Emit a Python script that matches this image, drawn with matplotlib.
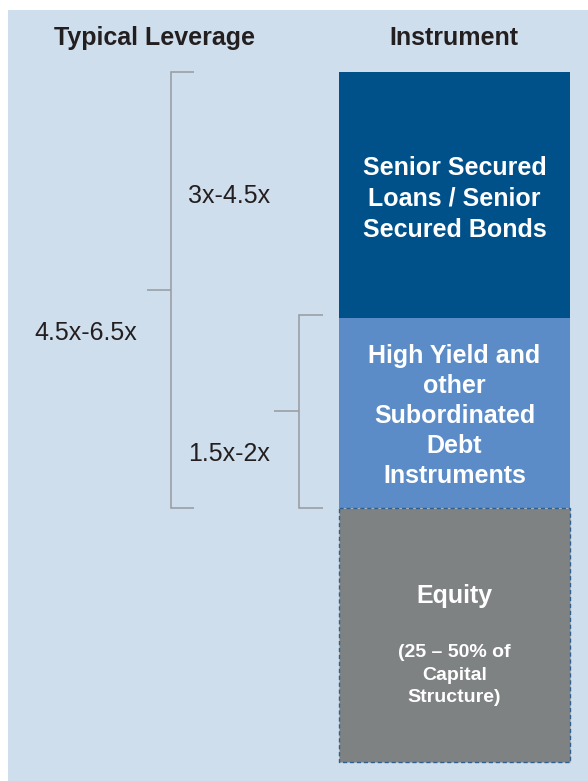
import matplotlib
matplotlib.use("Agg")
import matplotlib.pyplot as plt
from matplotlib.patches import Rectangle

plt.rcParams["font.family"] = ["Liberation Sans", "DejaVu Sans"]

# Content
headers = ["Typical Leverage", "Instrument"]
instruments = [
    "Senior Secured\nLoans / Senior\nSecured Bonds",
    "High Yield and\nother\nSubordinated\nDebt\nInstruments",
    "Equity",
]
equity_note = "(25 \u2013 50% of\nCapital\nStructure)"
leverage_labels = ["3x-4.5x", "1.5x-2x", "4.5x-6.5x"]

# Layout (pixel space, y downward)
W, H = 588, 781
BG = "#cfdeec"
TEXT = "#231f20"
LINE = "#9a9fa5"
box_colors = ["#00508a", "#5b8cc8", "#7f8283"]
box_x0, box_x1 = 339, 570
box_edges = [72, 318, 508, 762]
FS = 18

fig = plt.figure(figsize=(W / 100, H / 100), dpi=100)
fig.patch.set_facecolor("white")
ax = fig.add_axes([0, 0, 1, 1])
ax.set_xlim(0, W)
ax.set_ylim(H, 0)
ax.axis("off")

# panel background
ax.add_patch(Rectangle((8, 10), W - 8, H - 10, facecolor=BG, edgecolor="none", zorder=0))

# headers
ax.text(155, 38, headers[0], ha="center", va="center", fontsize=FS,
        fontweight="bold", color=TEXT)
ax.text(454, 38, headers[1], ha="center", va="center", fontsize=FS,
        fontweight="bold", color=TEXT)

# instrument boxes
text_centers = [199, 416]
spacings = [1.36, 1.32]
for i, (label, color) in enumerate(zip(instruments, box_colors)):
    y0, y1 = box_edges[i], box_edges[i + 1]
    if i < 2:
        ax.add_patch(Rectangle((box_x0, y0), box_x1 - box_x0, y1 - y0,
                               facecolor=color, edgecolor="none", zorder=1))
        ax.text((box_x0 + box_x1) / 2, text_centers[i], label,
                ha="center", va="center", fontsize=FS, fontweight="bold",
                color="white", linespacing=spacings[i], zorder=3)
    else:
        ax.add_patch(Rectangle((box_x0, y0), box_x1 - box_x0, y1 - y0,
                               facecolor=color, edgecolor="#2f5f8e", linewidth=1.0,
                               linestyle=(0, (3, 2)), zorder=2))
        ax.text((box_x0 + box_x1) / 2, 596, label, ha="center", va="center",
                fontsize=FS, fontweight="bold", color="white", zorder=3)
        ax.text((box_x0 + box_x1) / 2, 675, equity_note, ha="center", va="center",
                fontsize=14, fontweight="bold", color="white", linespacing=1.45,
                zorder=3)

# brackets
lw = 1.2
# large bracket (senior + high yield)
ax.plot([194, 171, 171, 194], [72, 72, 508, 508], color=LINE, lw=lw,
        solid_capstyle="butt", solid_joinstyle="miter")
ax.plot([147, 171], [290, 290], color=LINE, lw=lw, solid_capstyle="butt")
# small bracket (high yield)
ax.plot([323, 299, 299, 323], [315, 315, 508, 508], color=LINE, lw=lw,
        solid_capstyle="butt", solid_joinstyle="miter")
ax.plot([274, 299], [411, 411], color=LINE, lw=lw, solid_capstyle="butt")

# leverage labels
ax.text(188, 196, leverage_labels[0], ha="left", va="center", fontsize=FS, color=TEXT)
ax.text(188, 454, leverage_labels[1], ha="left", va="center", fontsize=FS, color=TEXT)
ax.text(86, 333, leverage_labels[2], ha="center", va="center", fontsize=FS, color=TEXT)

fig.savefig("out.png", dpi=100, facecolor=fig.get_facecolor())
